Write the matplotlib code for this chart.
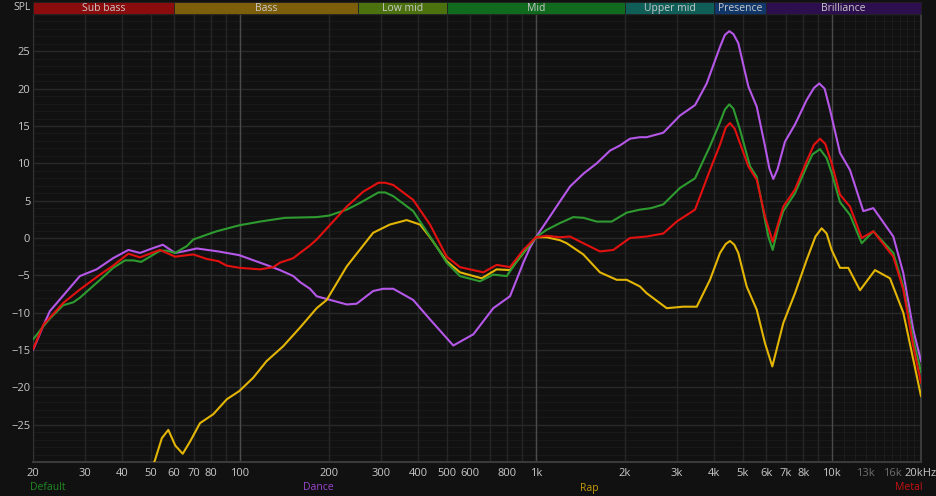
import matplotlib
matplotlib.use('Agg')
import matplotlib.pyplot as plt
import matplotlib.ticker as ticker
from matplotlib.patches import Rectangle

# frequency response presets (Hz, dB)
default_f = [20, 21.7, 22.8, 25.3, 27.4, 28.8, 33.7, 37.3, 40.9, 43.7, 46.4, 49.7, 53.7, 56.6, 60.4, 66.1,
             69.6, 79.3, 83.5, 99.5, 117, 142, 181.7, 200, 229.6, 254.6, 293.6, 310, 329.8, 385, 438.8, 499.6,
             554, 647, 718, 797, 884, 1000, 1088, 1206, 1338, 1450, 1605, 1803, 2027, 2248, 2450, 2694,
             3067, 3449, 3874, 4188, 4350, 4503, 4650, 4892, 5290, 5572, 5943, 6100, 6310, 6600, 6850, 7504, 8222,
             8600, 9116, 9600, 9982, 10652, 11512, 12610, 13804, 16122, 17428, 18838, 20000]
default_db = [-13.6, -11.8, -10.8, -9.0, -8.6, -8.0, -5.6, -4.0, -3.0, -3.0, -3.2, -2.5, -1.7, -1.7, -2.0, -1.1,
              -0.2, 0.6, 0.9, 1.7, 2.2, 2.7, 2.8, 3.0, 3.8, 4.7, 6.1, 6.1, 5.6, 3.6, 0.2, -3.3,
              -5.1, -5.8, -4.9, -5.1, -2.5, 0.1, 1.1, 2.0, 2.8, 2.7, 2.2, 2.2, 3.4, 3.8, 4.0, 4.5,
              6.7, 8.0, 12.3, 15.5, 17.2, 17.9, 17.3, 14.5, 9.6, 8.2, 2.4, 0.2, -1.6, 1.6, 3.6, 6.0, 9.6,
              11.2, 11.9, 10.7, 8.7, 4.8, 3.1, -0.7, 0.9, -2.0, -6.5, -13.6, -18.0]

dance_f = [20, 21.7, 22.8, 25.3, 28.8, 32.8, 37.3, 42, 46, 49.7, 54.9, 60.4, 64.4, 71.5, 84.5, 99.5,
           124.7, 136.6, 151.5, 159.6, 172.5, 181.7, 229.6, 248, 282, 305, 329.8, 385, 438.8, 526, 614.6,
           718, 817.6, 907, 955, 1000, 1116, 1206, 1304, 1446, 1605, 1780, 1924, 2079, 2248, 2368,
           2694, 3067, 3449, 3776, 4188, 4350, 4503, 4650, 4828, 5220, 5572, 5943, 6150, 6340, 6550, 6942,
           7504, 8222, 8700, 9066, 9450, 9852, 10652, 11512, 12766, 13804, 16122, 17428, 18838, 20000]
dance_db = [-15.0, -11.7, -9.8, -7.7, -5.1, -4.2, -2.7, -1.6, -2.0, -1.5, -0.9, -2.0, -1.8, -1.4, -1.8, -2.3,
            -3.7, -4.3, -5.1, -5.9, -6.8, -7.8, -8.9, -8.8, -7.1, -6.8, -6.8, -8.3, -10.9, -14.4, -12.9,
            -9.4, -7.8, -3.3, -1.3, 0.1, 2.9, 4.9, 6.9, 8.6, 10.0, 11.7, 12.4, 13.3, 13.5, 13.5,
            14.1, 16.4, 17.8, 20.7, 25.6, 27.2, 27.7, 27.3, 26.1, 20.3, 17.6, 12.3, 9.3, 7.9, 9.2, 12.9,
            15.2, 18.5, 20.1, 20.7, 20.0, 17.2, 11.4, 9.1, 3.6, 4.0, 0.2, -4.7, -12.3, -16.5]

rap_f = [48, 51.7, 54.5, 57.3, 60.5, 64.1, 68, 73.3, 81.3, 90.3, 99.5, 111, 123, 140, 159.6, 181.7, 196.4, 229.6, 282,
         321, 366, 406, 438.8, 499.6, 554, 656, 737, 817.6, 907, 1000, 1088, 1206, 1271, 1446, 1646,
         1875, 2027, 2248, 2368, 2767, 3148, 3495, 3874, 4188, 4380, 4526, 4680, 4828, 5154, 5572, 5943, 6292,
         6850, 7504, 8222, 8800, 9236, 9600, 9982, 10652, 11362, 12444, 13986, 15712, 17428, 18838, 20000]
rap_db = [-33.0, -29.7, -26.8, -25.7, -27.8, -28.9, -27.2, -24.8, -23.6, -21.6, -20.5, -18.7, -16.5, -14.5, -12.0, -9.4,
          -8.3, -3.8, 0.7,
          1.8, 2.4, 1.8, 0.1, -3.1, -4.6, -5.4, -4.2, -4.3, -2.0, 0.1, 0.1, -0.3, -0.7, -2.2, -4.6,
          -5.6, -5.6, -6.5, -7.4, -9.4, -9.2, -9.2, -5.6, -2.0, -0.8, -0.4, -0.9, -2.0, -6.5, -9.6, -14.1, -17.2,
          -11.4, -7.4, -2.9, 0.2, 1.3, 0.6, -1.6, -4.0, -4.0, -7.0, -4.3, -5.4, -10.0, -16.3, -21.2]

metal_f = [20, 21.7, 25.3, 28.8, 33.7, 37.3, 42, 46, 48.9, 53.7, 60.4, 69.6, 77.2, 84.5, 90.2, 100,
           117, 129.7, 136.6, 151.5, 159.6, 172.5, 181.7, 229.6, 261, 293.6, 310, 329.8, 385, 438.8, 499.6,
           554, 664, 737, 817.6, 907, 1000, 1088, 1206, 1304, 1446, 1646, 1826, 2079, 2368, 2694,
           2990, 3449, 3874, 4188, 4380, 4526, 4700, 4892, 5220, 5572, 5943, 6310, 6850, 7504, 8222, 8700, 9116,
           9500, 9982, 10652, 11512, 12610, 13804, 16122, 17428, 18838, 20000]
metal_db = [-14.9, -11.6, -8.7, -6.9, -4.9, -3.7, -2.1, -2.6, -2.2, -1.6, -2.5, -2.2, -2.8, -3.1, -3.7, -4.0,
            -4.2, -3.9, -3.3, -2.7, -2.0, -1.0, -0.2, 4.2, 6.2, 7.4, 7.4, 7.1, 5.1, 1.8, -2.5,
            -3.9, -4.6, -3.6, -3.9, -1.6, 0.1, 0.3, 0.1, 0.2, -0.7, -1.8, -1.6, 0.0, 0.2, 0.6,
            2.2, 3.8, 9.1, 12.5, 14.8, 15.4, 14.6, 12.7, 9.6, 7.8, 2.9, -0.5, 4.2, 6.5, 10.3, 12.5, 13.3,
            12.6, 10.0, 5.8, 4.2, 0.0, 0.9, -2.5, -6.9, -14.5, -19.4]

bands = ['Sub bass', 'Bass', 'Low mid', 'Mid', 'Upper mid', 'Presence', 'Brilliance']
band_edges = [20, 60, 250, 500, 2000, 4000, 6000, 20000]
band_colors = ['#8a0c0c', '#7d5e0b', '#4b720f', '#116b1f', '#0f5f58', '#10366a', '#2d0f50']

xtick_vals = [20, 30, 40, 50, 60, 70, 80, 100, 200, 300, 400, 500, 600, 800,
              1000, 2000, 3000, 4000, 5000, 6000, 7000, 8000, 10000, 13000, 16000, 20000]
xtick_labels = ['20', '30', '40', '50', '60', '70', '80', '100', '200', '300', '400', '500', '600', '800',
                '1k', '2k', '3k', '4k', '5k', '6k', '7k', '8k', '10k', '13k', '16k', '20kHz']
ytick_vals = [-25, -20, -15, -10, -5, 0, 5, 10, 15, 20, 25]

bg = '#111111'
plt.rcParams['font.family'] = ['Open Sans', 'DejaVu Sans']

fig = plt.figure(figsize=(9.37, 4.96), dpi=100, facecolor=bg)
W, H = 937, 496
ax = fig.add_axes([33 / W, 34 / H, 888 / W, 448 / H], facecolor=bg)
ax.set_xscale('log')
ax.set_xlim(20, 20000)
ax.set_ylim(-30, 30)

# grid
for db in range(-30, 31):
    if db % 5 == 0:
        ax.axhline(db, color='#2a2a2a', lw=1.0, zorder=1)
    else:
        ax.axhline(db, color='#191919', lw=0.8, zorder=0.5)
grid_f = list(range(20, 100, 10)) + list(range(100, 1000, 100)) + list(range(1000, 10000, 1000))
for f in grid_f:
    ax.axvline(f, color='#262626', lw=1.0, zorder=1)
for f in range(11000, 20000, 1000):
    ax.axvline(f, color='#1c1c1c', lw=0.8, zorder=0.5)
for f in [100, 1000, 10000]:
    ax.axvline(f, color='#4a4a4a', lw=1.0, zorder=1.2)

line_kw = dict(lw=1.5, solid_joinstyle='round', solid_capstyle='round')
ax.plot(dance_f, dance_db, color='#b557e8', zorder=3, **line_kw)
ax.plot(default_f, default_db, color='#2e9b30', zorder=4, **line_kw)
ax.plot(rap_f, rap_db, color='#e3b505', zorder=3, **line_kw)
ax.plot(metal_f, metal_db, color='#e31010', zorder=5, **line_kw)

ax.spines['top'].set_visible(False)
ax.spines['left'].set_color('#333333')
ax.spines['bottom'].set_color('#3a3a3a')
ax.spines['right'].set_color('#3a3a3a')
ax.spines['bottom'].set_linewidth(1.5)
ax.spines['right'].set_linewidth(1.5)

ax.xaxis.set_minor_locator(ticker.NullLocator())
ax.set_xticks(xtick_vals)
ax.set_xticklabels(xtick_labels)
ax.set_yticks(ytick_vals)
ax.tick_params(axis='both', length=0, labelsize=8, colors='#c8c8c8')
ax.tick_params(axis='x', pad=4)
ax.tick_params(axis='y', pad=2)
for lab in ax.get_xticklabels():
    if lab.get_text() in ('13k', '16k'):
        lab.set_color('#6e6e6e')

# band header
trans = ax.get_xaxis_transform()
band_h = 12 / 448
for i, name in enumerate(bands):
    lo, hi = band_edges[i], band_edges[i + 1]
    ax.add_patch(Rectangle((lo, 1.0), hi - lo, band_h, transform=trans,
                           facecolor=band_colors[i], edgecolor='#222222', lw=0.6, clip_on=False, zorder=6))
    mid = (lo * hi) ** 0.5
    ax.text(mid, 1.0 + band_h / 2, name, transform=trans, ha='center', va='center',
            fontsize=7.5, color='#c8c8c8', clip_on=False, zorder=7)

fig.text(31 / W, 1 - 8 / H, 'SPL', ha='right', va='center', fontsize=7.5, color='#c8c8c8')

# preset names
fig.text(30 / W, 1 - 488 / H, 'Default', ha='left', va='center', fontsize=7.5, color='#1e8a22')
fig.text(318 / W, 1 - 488 / H, 'Dance', ha='center', va='center', fontsize=7.5, color='#9b45cc')
fig.text(589 / W, 1 - 488 / H, 'Rap', ha='center', va='center', fontsize=7.5, color='#c49b06')
fig.text(923 / W, 1 - 488 / H, 'Metal', ha='right', va='center', fontsize=7.5, color='#c81010')

fig.savefig('out.png', dpi=100, facecolor=bg)
